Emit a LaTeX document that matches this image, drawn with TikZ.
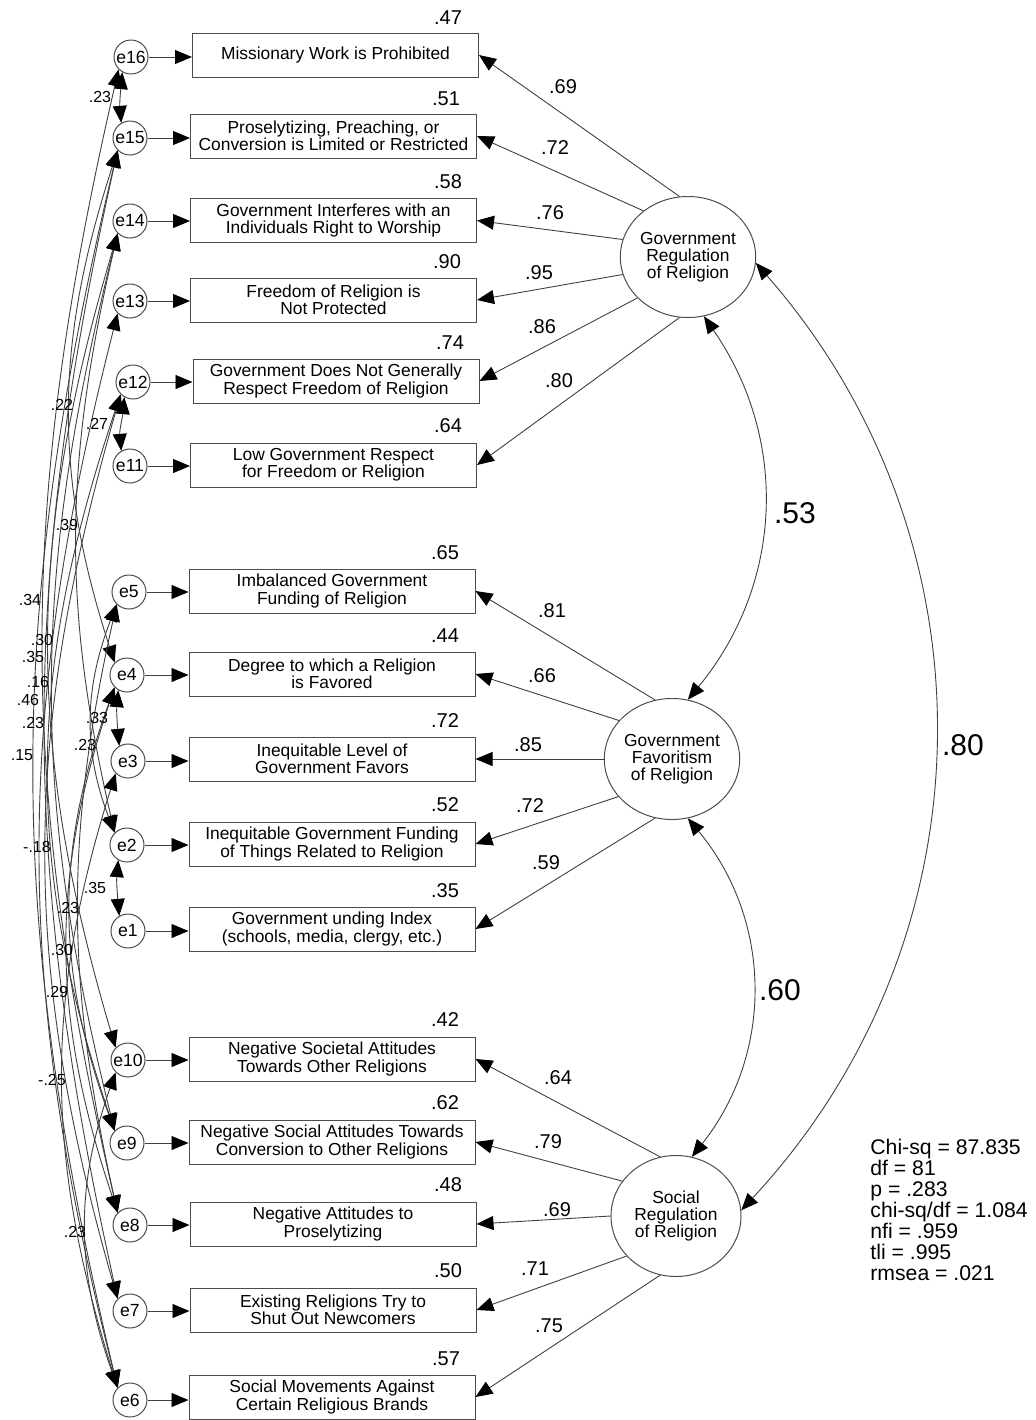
\documentclass[tikz,border=0pt]{standalone}
\usepackage{fontspec}
\setmainfont{Liberation Sans}
\usetikzlibrary{arrows.meta,shapes.geometric}
\begin{document}
\begin{tikzpicture}[x=0.5pt,y=-0.5pt,
  txt/.style={font=\fontsize{8.7}{8.6}\selectfont, align=center},
  obs/.style={rectangle, draw=black!70, line width=0.5pt, minimum width=143pt, minimum height=22pt, inner sep=0pt, txt},
  err/.style={circle, draw=black!70, line width=0.5pt, minimum size=17pt, inner sep=0pt, font=\fontsize{8.8}{8.8}\selectfont},
  lat/.style={ellipse, draw=black!70, line width=0.5pt, minimum width=65pt, minimum height=60.5pt, inner sep=0pt, txt},
  tip/.tip={Triangle[length=8.5pt,width=7pt,color=black]},
  arr/.style={-tip, draw=black!75, line width=0.45pt},
  cov/.style={tip-tip, draw=black!75, line width=0.45pt},
  num/.style={font=\fontsize{10}{10}\selectfont, inner sep=0pt},
  cnum/.style={font=\fontsize{8}{8}\selectfont, inner sep=0pt},
  bnum/.style={font=\fontsize{15}{15}\selectfont, inner sep=0pt},
  stats/.style={font=\fontsize{10.6}{10.5}\selectfont, align=left, inner sep=0pt}]

\useasboundingbox (0,0) rectangle (1036,1420);

% observed variables
\node[obs] (b16) at (335.5,55) {Missionary Work is Prohibited};
\node[obs] (b15) at (333.5,136) {Proselytizing, Preaching, or\\Conversion is Limited or Restricted};
\node[obs] (b14) at (333.5,220.5) {Government Interferes with an\\Individuals Right to Worship};
\node[obs] (b13) at (333.5,300) {Freedom of Religion is\\Not Protected};
\node[obs] (b12) at (336,381) {Government Does Not Generally\\Respect Freedom of Religion};
\node[obs] (b11) at (333.5,465) {Low Government Respect\\for Freedom or Religion};
\node[obs] (b5) at (332,591) {Imbalanced Government\\Funding of Religion};
\node[obs] (b4) at (332,674) {Degree to which a Religion\\is Favored};
\node[obs] (b3) at (332,759) {Inequitable Level of\\Government Favors};
\node[obs] (b2) at (332,844) {Inequitable Government Funding\\of Things Related to Religion};
\node[obs] (b1) at (332,929) {Government unding Index\\(schools, media, clergy, etc.)};
\node[obs] (b10) at (332,1059) {Negative Societal Attitudes\\Towards Other Religions};
\node[obs] (b9) at (332,1142) {Negative Social Attitudes Towards\\Conversion to Other Religions};
\node[obs] (b8) at (333,1224) {Negative Attitudes to\\Proselytizing};
\node[obs] (b7) at (333,1310) {Existing Religions Try to\\Shut Out Newcomers};
\node[obs] (b6) at (332,1397) {Social Movements Against\\Certain Religious Brands};

% error terms
\foreach \n/\x/\y in {16/131/57, 15/130/138, 14/130/221, 13/130/301, 12/133/382, 11/130/466,
  5/129/592, 4/127/675, 3/128/761, 2/127/845, 1/128/931,
  10/128/1060, 9/127/1143, 8/130/1225, 7/130/1311, 6/130/1400}
  \node[err] (e\n) at (\x,\y) {e\n};

\foreach \n in {1,...,16}
  \draw[arr] (e\n.east) -- (b\n.west |- e\n.east);

% latent variables
\node[lat] (gr) at (688,257) {Government\\Regulation\\of Religion};
\node[lat] (gf) at (672,759) {Government\\Favoritism\\of Religion};
\node[lat] (sr) at (676,1216) {Social\\Regulation\\of Religion};

% loadings
\draw[arr] (gr.98) -- (b16.east);
\draw[arr] (gr.134) -- (b15.east);
\draw[arr] (gr.165) -- (b14.east);
\draw[arr] (gr.195) -- (b13.east);
\draw[arr] (gr.219) -- (b12.east);
\draw[arr] (gr.262) -- (b11.east);
\draw[arr] (gf.106) -- (b5.east);
\draw[arr] (gf.144) -- (b4.east);
\draw[arr] (gf.180) -- (b3.east);
\draw[arr] (gf.215) -- (b2.east);
\draw[arr] (gf.254) -- (b1.east);
\draw[arr] (sr.105) -- (b10.east);
\draw[arr] (sr.147) -- (b9.east);
\draw[arr] (sr.180) -- (b8.east);
\draw[arr] (sr.219) -- (b7.east);
\draw[arr] (sr.255) -- (b6.east);

\foreach \t/\x/\y in {.69/563/87, .72/555/148, .76/550/213, .95/539/273, .86/542/327, .80/559/381,
  .81/552/611, .66/542/676, .85/528/745, .72/530/806, .59/546/863,
  .64/558/1078, .79/548/1142, .69/557/1210, .71/535/1269, .75/549/1326}
  \node[num] at (\x,\y) {\t};

% squared multiple correlations
\foreach \t/\x/\y in {.47/448/18, .51/446/99, .58/448/182, .90/447/262, .74/450/343, .64/448/426,
  .65/445/553, .44/445/636, .72/445/721, .52/445/805, .35/445/891,
  .42/445/1020, .62/445/1103, .48/448/1185, .50/448/1271, .57/446/1359}
  \node[num] at (\x,\y) {\t};

% factor covariances
\draw[cov] (gr.285) to[bend left=37] (gf.75);
\draw[cov] (gf.285) to[bend left=39] (sr.75);
\draw[cov] (gr.355) to[bend left=42] (sr.5);
\node[bnum] at (795,513) {.53};
\node[bnum] at (780,990) {.60};
\node[bnum] at (963,745) {.80};

% error covariances (short)
\draw[cov] (e16.240) to[out=265,in=95] (e15.120);
\draw[cov] (e12.240) to[out=265,in=95] (e11.120);
\draw[cov] (e4.240) to[out=265,in=95] (e3.120);
\draw[cov] (e2.240) to[out=265,in=95] (e1.120);

% error covariances (long)
\foreach \a/\b/\t in {15/4/18, 14/2/13, 16/8/13, 14/9/14, 15/7/12.5, 14/10/16.5, 13/6/14.3,
  12/7/16, 15/6/13.4, 5/2/21, 12/9/18.6, 5/8/12.6, 4/9/20, 4/8/18.5, 3/6/17.4, 10/6/19.5}
{
  \pgfmathsetmacro\o{270-\t}
  \pgfmathsetmacro\i{90+\t}
  \draw[cov] (e\a.225) to[out=\o,in=\i] (e\b.135);
}

\foreach \t/\x/\y in {.23/100/97, .27/97/424, .33/97/718, .35/95/888, .22/62/405, .39/67/525,
  .34/30/600, .30/42/640, .35/33/657, .16/38/682, .46/28/700, .23/33/723, .15/22/755,
  .23/85/745, -.18/37/847, .23/68/908, .30/62/950, .29/57/992, -.25/52/1080, .23/75/1232}
  \node[cnum] at (\x,\y) {\t};

% fit statistics
\node[stats, anchor=north west] (fit) at (870,1139) {Chi-sq = 87.835\\df = 81\\p = .283\\chi-sq/df = 1.084\\nfi = .959\\tli = .995\\rmsea = .021};
\end{tikzpicture}
\end{document}
